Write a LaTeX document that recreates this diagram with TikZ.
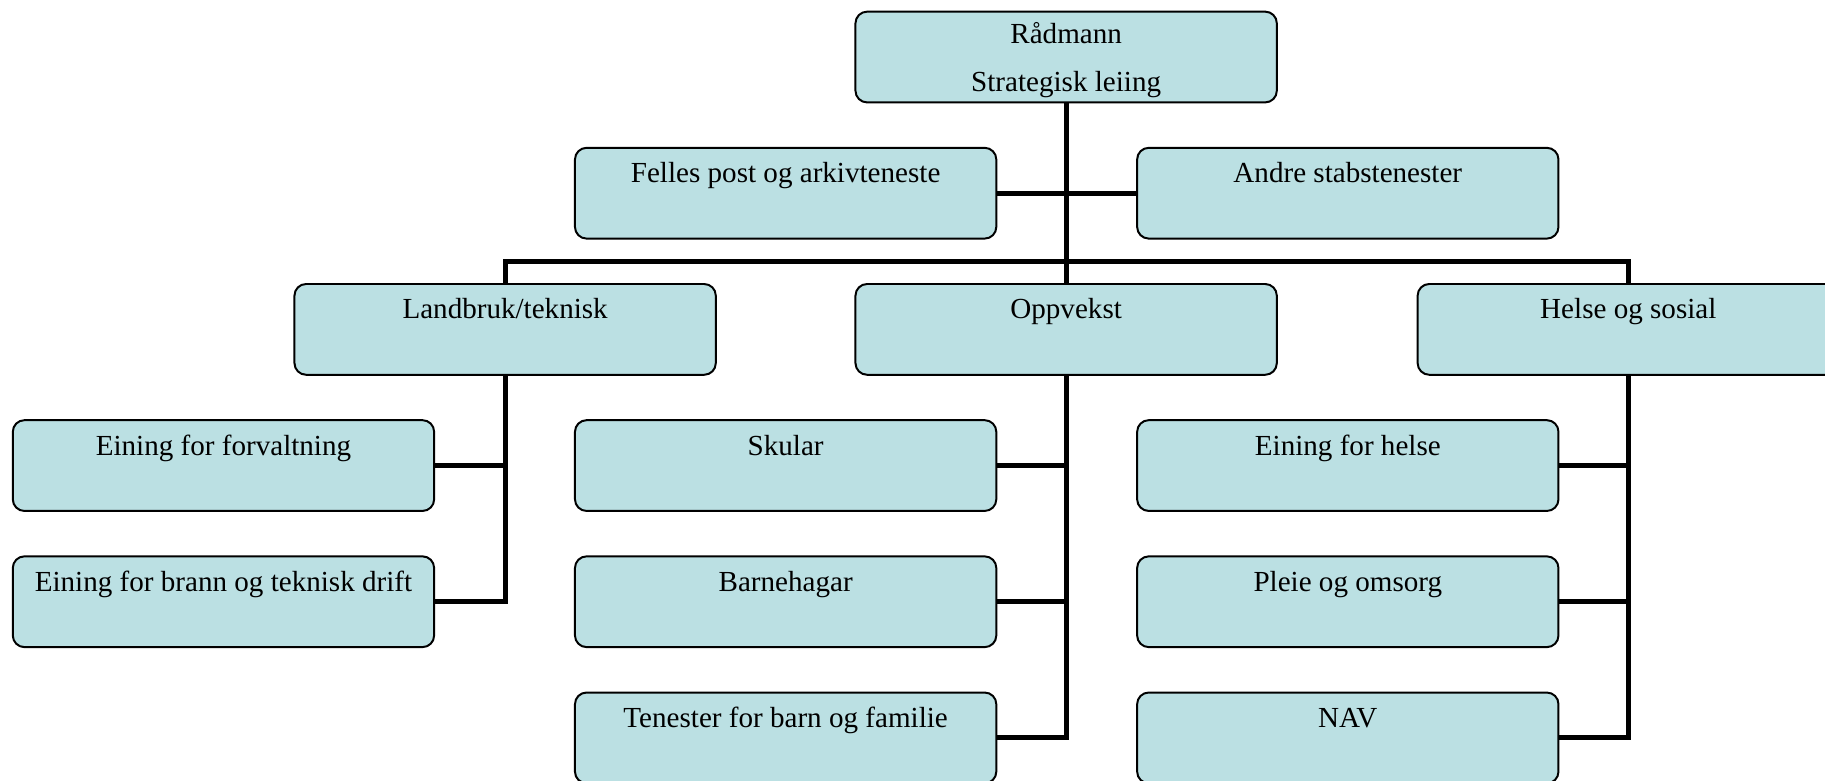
\documentclass[tikz,border=0pt]{standalone}
\usepackage{fontspec}
\setmainfont{Liberation Serif}
\definecolor{boxfill}{RGB}{187,224,227}
\begin{document}
\begin{tikzpicture}[x=1pt,y=-1pt,
  orgbox/.style={draw=black,line width=1.7pt,fill=boxfill,rounded corners=10pt,
    minimum width=362pt,minimum height=78pt,inner sep=0pt,outer sep=0pt},
  txt/.style={font=\fontsize{25}{33}\selectfont,inner sep=0pt,anchor=base},
  conn/.style={line width=4.3pt,draw=black}]
\useasboundingbox (0,0) rectangle (1568,671);
\clip (0,0) rectangle (1568,671);
% boxes
\node[orgbox] (rad) at (916,49) {};
\node[orgbox] (fel) at (675,166) {};
\node[orgbox] (and) at (1158,166) {};
\node[orgbox] (lan) at (434,283) {};
\node[orgbox] (opp) at (916,283) {};
\node[orgbox] (hel) at (1399,283) {};
\node[orgbox] (efo) at (192,400) {};
\node[orgbox] (ebr) at (192,517) {};
\node[orgbox] (sku) at (675,400) {};
\node[orgbox] (bar) at (675,517) {};
\node[orgbox] (ten) at (675,634) {};
\node[orgbox] (ehe) at (1158,400) {};
\node[orgbox] (ple) at (1158,517) {};
\node[orgbox] (nav) at (1158,634) {};
% texts
\node[txt] (trad1) at (916,37) {Rådmann};
\node[txt] (trad2) at (916,79) {Strategisk leiing};
\node[txt] (tfel) at (675,157) {Felles post og arkivteneste};
\node[txt] (tand) at (1158,157) {Andre stabstenester};
\node[txt] (tlan) at (434,274) {Landbruk/teknisk};
\node[txt] (topp) at (916,274) {Oppvekst};
\node[txt] (thel) at (1399,274) {Helse og sosial};
\node[txt] (tefo) at (192,391) {Eining for forvaltning};
\node[txt] (tebr) at (192,508) {Eining for brann og teknisk drift};
\node[txt] (tsku) at (675,391) {Skular};
\node[txt] (tbar) at (675,508) {Barnehagar};
\node[txt] (tten) at (675,625) {Tenester for barn og familie};
\node[txt] (tehe) at (1158,391) {Eining for helse};
\node[txt] (tple) at (1158,508) {Pleie og omsorg};
\node[txt] (tnav) at (1158,625) {NAV};
% connectors
\coordinate (bus) at (916,225);
\draw[conn] (rad.south) -- (opp.north);
\draw[conn] (fel.east) -- (and.west);
\draw[conn] (lan.north) |- (bus) -| (hel.north);
\draw[conn] (lan.south) |- (ebr.east);
\draw[conn] (lan.south) |- (efo.east);
\draw[conn] (opp.south) |- (ten.east);
\draw[conn] (opp.south) |- (bar.east);
\draw[conn] (opp.south) |- (sku.east);
\draw[conn] (hel.south) |- (nav.east);
\draw[conn] (hel.south) |- (ple.east);
\draw[conn] (hel.south) |- (ehe.east);
\end{tikzpicture}
\end{document}
